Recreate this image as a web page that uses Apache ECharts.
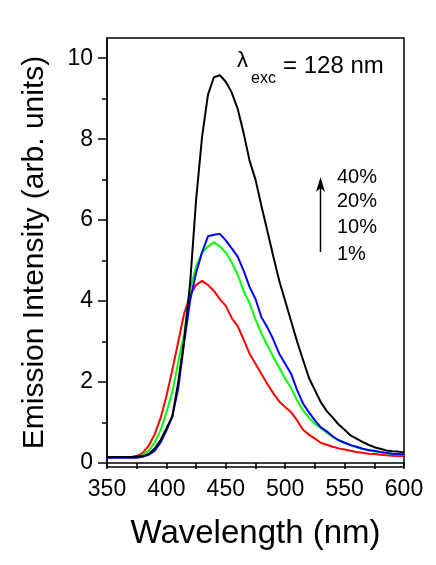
<!DOCTYPE html>
<html>
<head>
<meta charset="utf-8">
<script src="https://cdn.jsdelivr.net/npm/echarts@6/dist/echarts.min.js"></script>
<style>
  html, body { margin: 0; padding: 0; background: #fff; }
  #chart { width: 436px; height: 565px; }
</style>
</head>
<body>
<div id="chart"></div>
<script>
// wavelength grid (nm)
var wavelengths = [350,355,360,365,370,375,380,385,390,395,400,405,410,415,420,425,430,435,440,445,
  450,455,460,465,470,475,480,485,490,495,500,505,510,515,520,525,530,535,540,545,
  550,555,560,565,570,575,580,585,590,595,600];

// 40%
var black = [0.15,0.15,0.15,0.15,0.15,0.16,0.17,0.22,0.35,0.56,0.85,1.15,2.0,3.05,4.45,6.5,8.05,9.1,9.53,9.58,
  9.42,9.15,8.75,8.15,7.47,7.0,6.35,5.73,5.1,4.5,4.0,3.5,3.0,2.55,2.1,1.8,1.5,1.28,1.12,0.95,
  0.82,0.68,0.6,0.52,0.45,0.39,0.35,0.31,0.29,0.28,0.26];
// 20%
var blue = [0.13,0.13,0.13,0.13,0.13,0.13,0.15,0.2,0.3,0.5,0.8,1.15,1.85,3.0,4.02,4.7,5.2,5.6,5.64,5.66,
  5.5,5.3,5.1,4.75,4.35,4.05,3.6,3.35,3.05,2.7,2.45,2.2,1.8,1.47,1.25,1.05,0.88,0.78,0.66,0.56,
  0.5,0.44,0.4,0.35,0.32,0.3,0.27,0.25,0.23,0.22,0.21];
// 10%
var green = [0.14,0.14,0.14,0.14,0.14,0.14,0.2,0.3,0.5,0.8,1.25,1.75,2.5,3.2,4.3,4.85,5.2,5.35,5.45,5.35,
  5.2,4.95,4.65,4.25,3.95,3.55,3.2,2.9,2.62,2.35,2.08,1.85,1.55,1.3,1.12,0.97,0.86,0.75,0.64,0.56,
  0.5,0.44,0.39,0.35,0.31,0.28,0.26,0.24,0.22,0.21,0.2];
// 1%
var red = [0.14,0.14,0.14,0.14,0.14,0.17,0.25,0.42,0.7,1.1,1.65,2.3,3.0,3.7,4.15,4.4,4.5,4.4,4.25,4.05,
  3.88,3.58,3.38,3.05,2.7,2.45,2.2,1.95,1.72,1.52,1.38,1.25,1.05,0.82,0.7,0.6,0.5,0.45,0.4,0.36,
  0.33,0.3,0.27,0.25,0.23,0.22,0.2,0.19,0.18,0.17,0.17];

var yMajor = [0, 2, 4, 6, 8, 10];
var yMinor = [1, 3, 5, 7, 9];
var percentLabels = ['40%', '20%', '10%', '1%'];

function pairs(ys) {
  return wavelengths.map(function (x, i) { return [x, ys[i]]; });
}

var font = 'Liberation Sans, Arial, sans-serif';
var chart = echarts.init(document.getElementById('chart'), null, { renderer: 'canvas' });

function line(name, color, ys) {
  return {
    name: name, type: 'line', data: pairs(ys), showSymbol: false, smooth: false,
    lineStyle: { color: color, width: 2 }, silent: true, animation: false
  };
}

var pctText = percentLabels.map(function (t, i) {
  return {
    type: 'text', left: 337, top: [167, 191, 217, 244][i],
    style: { text: t, font: '20px ' + font, fill: '#000' }
  };
});

chart.setOption({
  animation: false,
  grid: { left: 107, right: 32, top: 38, bottom: 98, show: true, borderColor: '#000', borderWidth: 1.5 },
  xAxis: {
    type: 'value', min: 350, max: 600, interval: 50,
    name: 'Wavelength (nm)', nameLocation: 'middle', nameGap: 50,
    nameTextStyle: { fontFamily: font, fontSize: 33, color: '#000' },
    axisLine: { lineStyle: { color: '#000', width: 1.5 } },
    axisTick: { length: 6, lineStyle: { color: '#000', width: 1.5 } },
    minorTick: { show: true, splitNumber: 2, length: 6, lineStyle: { color: '#000', width: 1.5 } },
    axisLabel: { fontFamily: font, fontSize: 23, color: '#000', margin: 11 },
    splitLine: { show: false }
  },
  yAxis: [{
    type: 'value', min: -0.1, max: 10.5,
    name: 'Emission Intensity (arb. units)', nameLocation: 'middle', nameGap: 57,
    nameTextStyle: { fontFamily: font, fontSize: 30, color: '#000' },
    axisLine: { lineStyle: { color: '#000', width: 1.5 } },
    axisTick: { customValues: yMajor, length: 9, lineStyle: { color: '#000', width: 1.5 } },
    axisLabel: { customValues: yMajor, fontFamily: font, fontSize: 23, color: '#000', margin: 14 },
    splitLine: { show: false }
  }, {
    type: 'value', min: -0.1, max: 10.5, position: 'left',
    axisLine: { show: false },
    axisTick: { customValues: yMinor, length: 5, lineStyle: { color: '#000', width: 1.5 } },
    axisLabel: { show: false },
    splitLine: { show: false }
  }],
  series: [
    line('1%', '#ff0000', red),
    line('10%', '#00ff00', green),
    line('20%', '#0000ff', blue),
    line('40%', '#000000', black)
  ],
  graphic: [
    { type: 'text', left: 237, top: 50, style: { text: 'λ', font: '22px ' + font, fill: '#000' } },
    { type: 'text', left: 251, top: 71, style: { text: 'exc', font: '16px ' + font, fill: '#000' } },
    { type: 'text', left: 283, top: 54, style: { text: '= 128 nm', font: '24px ' + font, fill: '#000' } },
    { type: 'line', shape: { x1: 320.5, y1: 252, x2: 320.5, y2: 188 }, style: { stroke: '#000', lineWidth: 1.5 } },
    { type: 'polygon', shape: { points: [[320.5, 177], [316, 192], [320.5, 188], [325, 192]] }, style: { fill: '#000' } }
  ].concat(pctText)
});
</script>
</body>
</html>
